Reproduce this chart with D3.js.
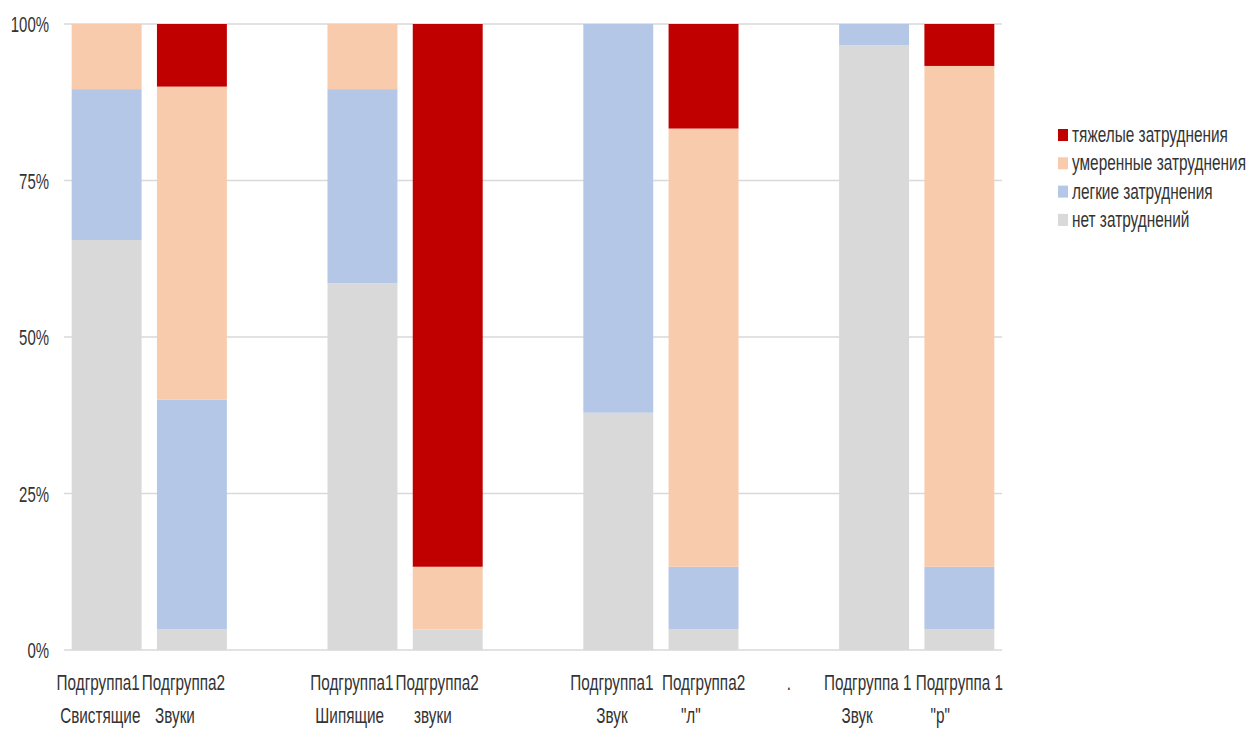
<!DOCTYPE html>
<html>
<head>
<meta charset="utf-8">
<script src="https://cdn.jsdelivr.net/npm/d3@7"></script>
<style>
  html, body { margin: 0; padding: 0; background: #fff; }
  svg text { font-family: "Liberation Sans", Arial, sans-serif; fill: #333333; }
</style>
</head>
<body>
<svg id="chart" width="1250" height="731"></svg>
<script>
// Categories (three spacer columns separate the groups)
const categories = ["c1", "c2", "s1", "c3", "c4", "s2", "c5", "c6", "s3", "c7", "c8"];
const labelTop = ["Подгруппа1    ", "Подгруппа2    ", "", "Подгруппа1     ", "Подгруппа2     ", "", "Подгруппа1   ", "Подгруппа2", ".", "Подгруппа 1   ", "Подгруппа 1"];
const labelBottom = ["Свистящие   ", "Звуки        ", "", "Шипящие      ", "звуки       ", "", "Звук   ", "\"л\"      ", "", "Звук        ", "\"р\"         "];

// Shares of children per difficulty level, %
const noDifficulty = [65.5, 3.3, 0, 58.6, 3.3, 0, 37.9, 3.3, 0, 96.6, 3.3];
const mildDifficulty = [24.1, 36.7, 0, 31.0, 0, 0, 62.1, 10.0, 0, 3.4, 10.0];
const moderateDifficulty = [10.4, 50.0, 0, 10.4, 10.0, 0, 0, 70.0, 0, 0, 80.0];
const severeDifficulty = [0, 10.0, 0, 0, 86.7, 0, 0, 16.7, 0, 0, 6.7];

const seriesNames = ["нет затруднений", "легкие затруднения", "умеренные затруднения", "тяжелые затруднения"];
const seriesColors = ["#D9D9D9", "#B4C7E7", "#F8CBAD", "#C00000"];
const yTicks = [0, 25, 50, 75, 100];
const yTickLabels = ["0%", "25%", "50%", "75%", "100%"];

const seriesValues = [noDifficulty, mildDifficulty, moderateDifficulty, severeDifficulty];
const rows = categories.map((c, i) => {
  const r = { cat: c };
  seriesNames.forEach((s, k) => { r[s] = seriesValues[k][i]; });
  return r;
});

const svg = d3.select("#chart");
const plot = { left: 64, right: 1002, top: 24, bottom: 650 };

const x = d3.scaleBand().domain(categories).range([plot.left, plot.right])
  .paddingInner(0.18).paddingOuter(0.09);
const y = d3.scaleLinear().domain([0, 100]).range([plot.bottom, plot.top]);

// Gridlines
svg.append("g").selectAll("line").data(yTicks).join("line")
  .attr("x1", plot.left).attr("x2", plot.right)
  .attr("y1", d => y(d)).attr("y2", d => y(d))
  .attr("stroke", "#D9D9D9").attr("stroke-width", 1.5);

// Stacked bars
const stacked = d3.stack().keys(seriesNames)(rows);
svg.append("g").selectAll("g").data(stacked).join("g")
  .attr("fill", (d, i) => seriesColors[i])
  .selectAll("rect").data(d => d).join("rect")
  .attr("x", d => x(d.data.cat))
  .attr("width", x.bandwidth())
  .attr("y", d => y(d[1]))
  .attr("height", d => y(d[0]) - y(d[1]));

// Text is drawn condensed horizontally
function addText(g, str, tx, ty, size, sx, anchor) {
  return g.append("text")
    .attr("transform", `translate(${tx},${ty}) scale(${sx},1)`)
    .attr("text-anchor", anchor)
    .attr("font-size", size)
    .attr("xml:space", "preserve")
    .style("white-space", "pre")
    .text(str);
}

// Y axis labels
const yAxis = svg.append("g");
yTicks.forEach((t, i) => addText(yAxis, yTickLabels[i], 49, y(t) + 8, 22, 0.68, "end"));

// X axis labels (two lines)
const xAxis = svg.append("g");
categories.forEach((c, i) => {
  const cx = x(c) + x.bandwidth() / 2;
  addText(xAxis, labelTop[i], cx, 690, 22, 0.695, "middle");
  addText(xAxis, labelBottom[i], cx, 723, 22, 0.695, "middle");
});

// Legend (top series first)
const legend = svg.append("g");
const legendOrder = [3, 2, 1, 0];
legendOrder.forEach((k, j) => {
  const by = 142 + j * 28.3;
  legend.append("rect").attr("x", 1058).attr("y", by - 13).attr("width", 10).attr("height", 12)
    .attr("fill", seriesColors[k]);
  addText(legend, seriesNames[k], 1072, by, 22, 0.7, "start");
});
</script>
</body>
</html>
